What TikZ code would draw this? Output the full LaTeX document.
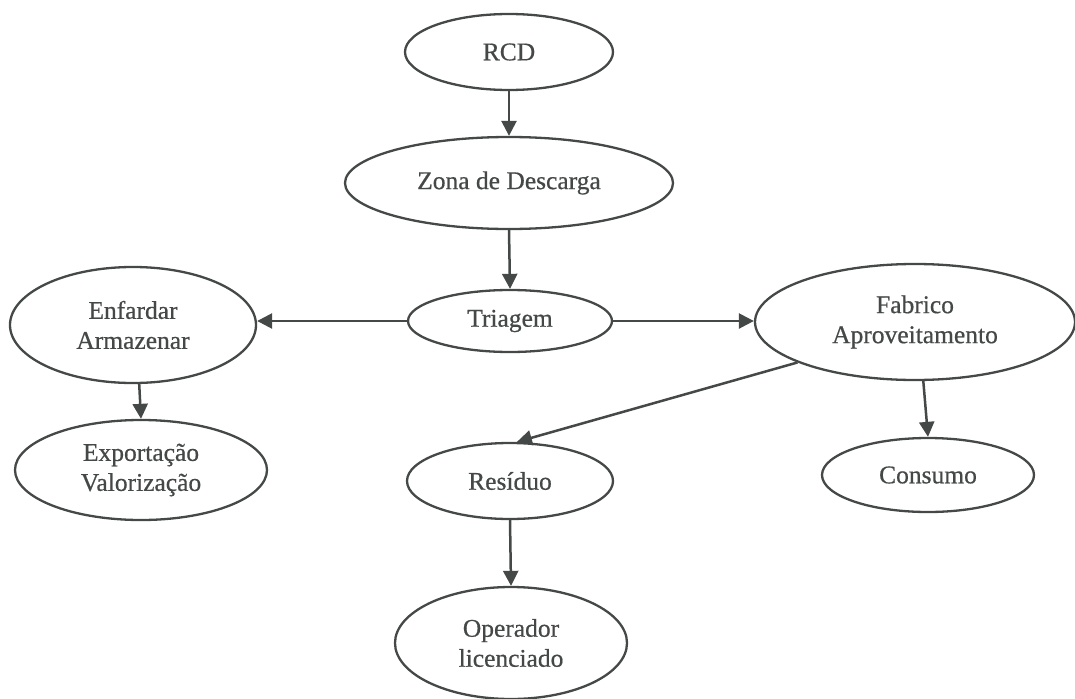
\documentclass[tikz,border=0pt]{standalone}
\usepackage{fontspec}
\setmainfont{Liberation Serif}[FakeBold=0.6]
\usetikzlibrary{shapes.geometric,arrows.meta}
\definecolor{ink}{HTML}{444846}
\tikzset{
  ell/.style={ellipse, draw=ink, line width=2.3pt, inner sep=0pt, text=ink,
    align=center, font=\fontsize{25.5}{30}\selectfont},
  conn/.style={draw=ink, line width=2.5pt, -{Triangle[length=15pt,width=15pt]}}
}
\begin{document}
\begin{tikzpicture}[x=1pt,y=-1pt]
\useasboundingbox (0,0) rectangle (1075,698);
\node[ell, minimum width=208pt, minimum height=76pt] (rcd) at (509,52) {RCD};
\node[ell, minimum width=328pt, minimum height=92pt] (zona) at (509,183) {Zona de Descarga};
\node[ell, minimum width=204pt, minimum height=62pt] (tri) at (510,321) {Triagem};
\node[ell, minimum width=246pt, minimum height=116pt] (enf) at (133,325) {Enfardar\\Armazenar};
\node[ell, minimum width=320pt, minimum height=116pt] (fab) at (915,322) {Fabrico\\Aproveitamento};
\node[ell, minimum width=252pt, minimum height=100pt] (exp) at (141,470) {Exportação\\Valorização};
\node[ell, minimum width=206pt, minimum height=76pt] (res) at (510,481) {Resíduo};
\node[ell, minimum width=212pt, minimum height=74pt] (con) at (928,475) {Consumo};
\node[ell, minimum width=232pt, minimum height=112pt] (op) at (511,643) {Operador\\licenciado};
\draw[conn] (rcd.south) -- (zona.north);
\draw[conn] (zona.south) -- (tri.north);
\draw[conn] (tri.west) -- (tri.west -| enf.east);
\draw[conn] (tri.east) -- (tri.east -| fab.west);
\draw[conn] (enf.-84) -- (exp.north);
\draw[conn] (fab.199) -- (res.80);
\draw[conn] (fab.-82) -- (con.north);
\draw[conn] (res.south) -- (op.north);
\end{tikzpicture}
\end{document}
